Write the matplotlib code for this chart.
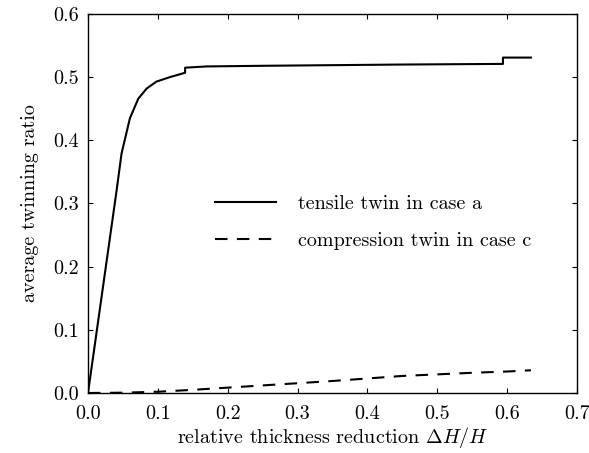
import numpy as np
import matplotlib
matplotlib.use("Agg")
import matplotlib.pyplot as plt

plt.rcParams["font.family"] = "serif"
plt.rcParams["font.serif"] = ["cmr10"]
plt.rcParams["mathtext.fontset"] = "cm"
plt.rcParams["axes.formatter.use_mathtext"] = True
plt.rcParams["font.size"] = 14.5

# tensile twin, case a
tensile_x = [0.0, 0.041, 0.048, 0.060, 0.072, 0.084, 0.098, 0.117, 0.139, 0.139,
             0.170, 0.250, 0.350, 0.450, 0.594, 0.594, 0.634]
tensile_y = [0.0, 0.321, 0.379, 0.435, 0.466, 0.482, 0.493, 0.500, 0.507, 0.515,
             0.517, 0.518, 0.519, 0.520, 0.521, 0.531, 0.531]

# compression twin, case c
comp_x = [0.0, 0.05, 0.10, 0.15, 0.20, 0.25, 0.30, 0.35, 0.40, 0.45, 0.50, 0.55, 0.60, 0.634]
comp_y = [0.0, 0.0005, 0.002, 0.005, 0.0085, 0.012, 0.0155, 0.019, 0.023, 0.027,
          0.0295, 0.032, 0.034, 0.036]

fig = plt.figure(figsize=(5.89, 4.53), dpi=100)
ax = fig.add_axes([88 / 589, 60 / 453, 489 / 589, 379 / 453])

ax.plot(tensile_x, tensile_y, color="black", lw=1.5, label="tensile twin in case a")
ax.plot(comp_x, comp_y, color="black", lw=1.5, dashes=(6, 4.5),
        label="compression twin in case c")

ax.set_xlim(0, 0.7)
ax.set_ylim(0, 0.6)
ax.set_xticks(np.arange(0, 0.71, 0.1))
ax.set_yticks(np.arange(0, 0.61, 0.1))
ax.xaxis.set_major_formatter(matplotlib.ticker.FormatStrFormatter("%.1f"))
ax.yaxis.set_major_formatter(matplotlib.ticker.FormatStrFormatter("%.1f"))
ax.tick_params(direction="in", top=True, right=True, length=3.5, width=0.8)
ax.tick_params(axis="x", pad=9)
ax.tick_params(axis="y", pad=6.5)
for s in ax.spines.values():
    s.set_linewidth(1.0)

ax.set_xlabel(r"relative thickness reduction $\Delta H/H$", labelpad=1)
ax.set_ylabel("average twinning ratio", labelpad=10)

ax.legend(loc="center left", bbox_to_anchor=(0.26, 0.45), frameon=False,
          borderpad=0, borderaxespad=0, handlelength=3.0, handletextpad=1.1,
          labelspacing=0.9)

fig.savefig("out.png", dpi=100)
